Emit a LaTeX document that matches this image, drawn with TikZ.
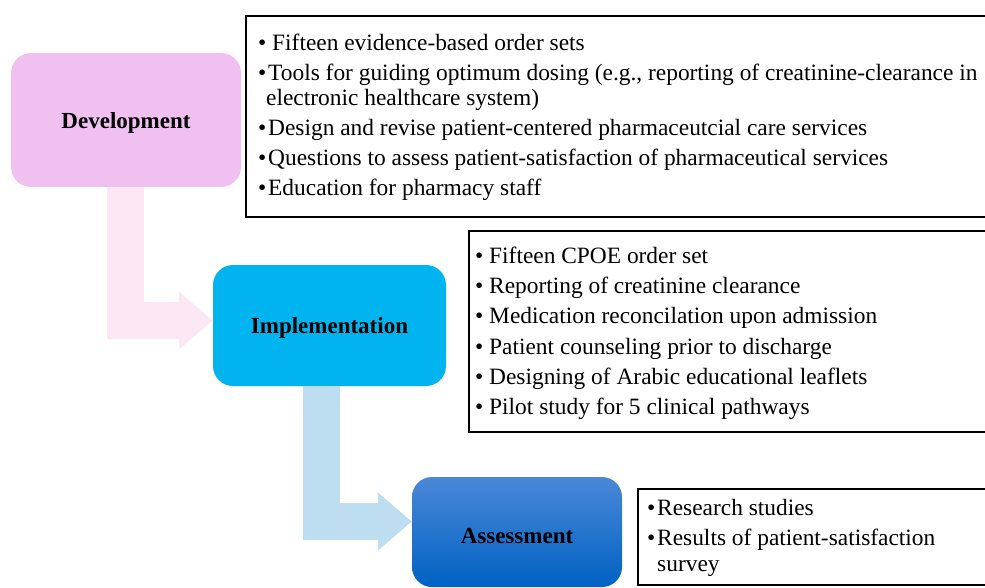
\documentclass[tikz,border=0pt]{standalone}
\usepackage{fontspec}
\setmainfont{Liberation Serif}
\usetikzlibrary{arrows.meta}
\definecolor{devpink}{HTML}{F0C0F0}
\definecolor{arrpink}{HTML}{FCE8F4}
\definecolor{impblue}{HTML}{00B4F0}
\definecolor{arrblue}{HTML}{BDDDF0}
\definecolor{asstop}{HTML}{4A88D6}
\definecolor{assbot}{HTML}{0062C4}
\newcommand{\bulA}{\makebox[14pt][l]{•}}
\newcommand{\bulB}{\makebox[10pt][l]{•}}
\newcommand{\lowered}[2]{\raisebox{-#1}[\height][\depth]{#2}}
\begin{document}
\begin{tikzpicture}[x=1pt,y=-1pt,
  stage/.style={rounded corners=20pt, inner sep=0pt, text=black,
    font=\fontsize{23}{27}\selectfont\bfseries},
  listbox/.style={draw=black, line width=1.6pt, inner sep=0pt, anchor=north west},
  item/.style={anchor=base west, inner sep=0pt, font=\fontsize{23.4}{28}\selectfont},
  flow/.style={line width=37pt, -{Triangle[length=34pt,width=56pt]}}
]
\useasboundingbox (0,0) rectangle (985,588);
\clip (0,0) rectangle (985,588);

% stage boxes
\node[stage, fill=devpink, minimum width=230pt, minimum height=134pt] (dev) at (126,120) {\lowered{3pt}{Development}};
\node[stage, fill=impblue, minimum width=233pt, minimum height=121pt] (imp) at (329.5,325.5) {\lowered{2pt}{Implementation}};
\node[stage, top color=asstop, bottom color=assbot, minimum width=210pt, minimum height=110pt] (ass) at (517,532) {\lowered{4pt}{Assessment}};

% elbow arrows
\coordinate (pinkturn) at (125.5,320.5);
\coordinate (blueturn) at (321.5,521.5);
\draw[flow, arrpink] (dev.south -| pinkturn) |- (imp.west |- pinkturn);
\draw[flow, arrblue] (imp.south -| blueturn) |- (ass.west |- blueturn);

% list boxes
\node[listbox, minimum width=760pt, minimum height=201pt] (devlist) at (245,15) {};
\node[listbox, minimum width=540pt, minimum height=201pt] (implist) at (468,230) {};
\node[listbox, minimum width=370pt, minimum height=96pt] (asslist) at (637,488) {};

% development items
\node[item] (d1) at (258,51) {\bulA Fifteen evidence-based order sets};
\node[item] (d2) at (258,81) {\bulB Tools for guiding optimum dosing (e.g., reporting of creatinine-clearance in};
\node[item] (d3) at (266,106) {electronic healthcare system)};
\node[item] (d4) at (258,136) {\bulB Design and revise patient-centered pharmaceutcial care services};
\node[item] (d5) at (258,166) {\bulB Questions to assess patient-satisfaction of pharmaceutical services};
\node[item] (d6) at (258,196) {\bulB Education for pharmacy staff};

% implementation items
\node[item] (i1) at (475,263) {\bulA Fifteen CPOE order set};
\node[item] (i2) at (475,293) {\bulA Reporting of creatinine clearance};
\node[item] (i3) at (475,323.5) {\bulA Medication reconcilation upon admission};
\node[item] (i4) at (475,354) {\bulA Patient counseling prior to discharge};
\node[item] (i5) at (475,384) {\bulA Designing of Arabic educational leaflets};
\node[item] (i6) at (475,414) {\bulA Pilot study for 5 clinical pathways};

% assessment items
\node[item] (a1) at (647,515) {\bulB Research studies};
\node[item] (a2) at (647,545) {\bulB Results of patient-satisfaction};
\node[item] (a3) at (657,571) {survey};
\end{tikzpicture}
\end{document}
